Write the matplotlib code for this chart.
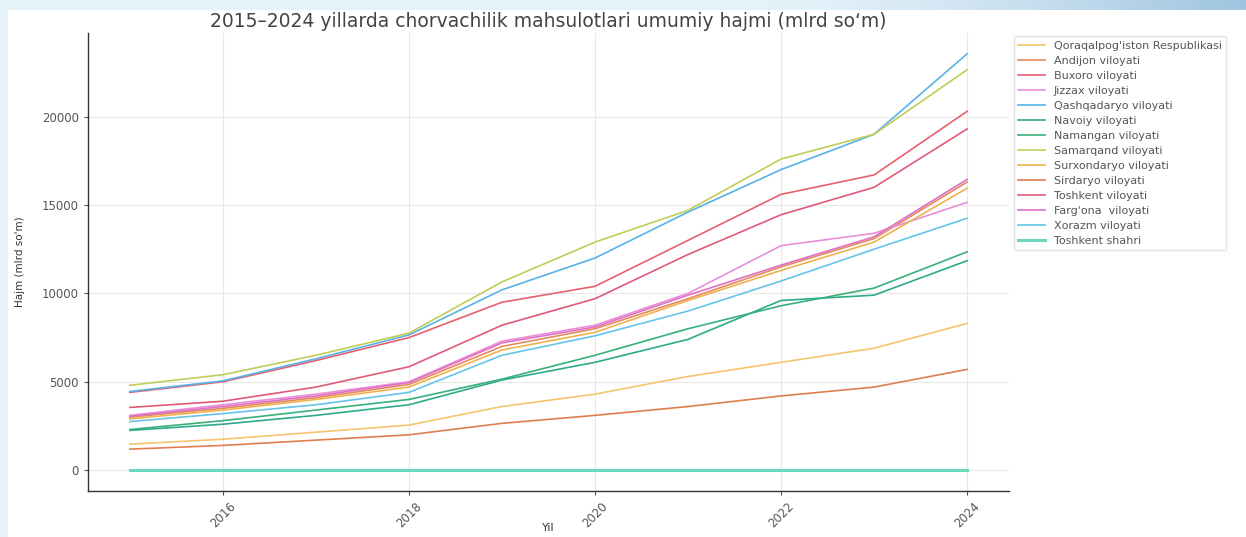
#-*- coding:utf-8 -*-

# Importation des modules
import numpy as np
import matplotlib
matplotlib.use("Agg")
import matplotlib.pyplot as plt
from matplotlib.patches import Rectangle


# Données (mlrd so'm)
years = [2015, 2016, 2017, 2018, 2019, 2020, 2021, 2022, 2023, 2024]

regions = [
	"Qoraqalpog'iston Respublikasi",
	"Andijon viloyati",
	"Buxoro viloyati",
	"Jizzax viloyati",
	"Qashqadaryo viloyati",
	"Navoiy viloyati",
	"Namangan viloyati",
	"Samarqand viloyati",
	"Surxondaryo viloyati",
	"Sirdaryo viloyati",
	"Toshkent viloyati",
	"Farg'ona  viloyati",
	"Xorazm viloyati",
	"Toshkent shahri",
]

qoraqalpogiston = [1470, 1750, 2150, 2550, 3600, 4300, 5300, 6100, 6900, 8300]
andijon = [3000, 3500, 4100, 4850, 7000, 8000, 9700, 11500, 13100, 16300]
buxoro = [4400, 5000, 6200, 7500, 9500, 10400, 13000, 15600, 16700, 20300]
jizzax = [3100, 3700, 4300, 5000, 7300, 8200, 10000, 12700, 13400, 15150]
qashqadaryo = [4450, 5050, 6300, 7650, 10200, 12000, 14600, 17000, 19000, 23550]
navoiy = [2250, 2600, 3100, 3700, 5100, 6100, 7400, 9600, 9900, 11850]
namangan = [2300, 2800, 3400, 4000, 5150, 6500, 8000, 9300, 10300, 12350]
samarqand = [4800, 5400, 6500, 7750, 10650, 12900, 14700, 17600, 19000, 22650]
surxondaryo = [2900, 3400, 4000, 4700, 6800, 7800, 9600, 11300, 12900, 15950]
sirdaryo = [1190, 1400, 1700, 2000, 2650, 3100, 3600, 4200, 4700, 5700]
toshkent_vil = [3550, 3900, 4700, 5850, 8200, 9700, 12200, 14450, 16000, 19300]
fargona = [3050, 3600, 4200, 4950, 7200, 8100, 9900, 11600, 13200, 16450]
xorazm = [2750, 3200, 3700, 4400, 6500, 7600, 9000, 10700, 12500, 14250]
toshkent_sh = [0, 0, 0, 0, 0, 0, 0, 0, 0, 0]

series = [
	qoraqalpogiston, andijon, buxoro, jizzax, qashqadaryo, navoiy, namangan,
	samarqand, surxondaryo, sirdaryo, toshkent_vil, fargona, xorazm, toshkent_sh,
]

colors = [
	"#f5c46e", "#e58a5c", "#e6606e", "#ea8fd6", "#58b2e6", "#2ea98c", "#38b07a",
	"#c2cc58", "#f0b24e", "#df7f4e", "#e05a78", "#de70c6", "#66c4ea", "#6ad8bc",
]


# Création de la figure
fig = plt.figure(figsize=(12.46, 5.37), dpi=100)
fig.patch.set_facecolor("#e7f3fb")

# Fond blanc du graphique (capture d'écran)
fig.patches.append(Rectangle((8 / 1246, 0), 1, 1 - 10 / 537, transform=fig.transFigure,
	facecolor="white", edgecolor="none", zorder=0))

# Bandeau supérieur en dégradé
ax_bg = fig.add_axes([0, 1 - 10 / 537, 1, 10 / 537], zorder=0)
grad = np.linspace(0, 1, 256)
c0 = np.array([0.90, 0.95, 0.98])
c1 = np.array([0.62, 0.77, 0.88])
w = np.clip((grad - 0.6) / 0.4, 0, 1) ** 1.5
img = c0[None, :] * (1 - w[:, None]) + c1[None, :] * w[:, None]
ax_bg.imshow(img[None, :, :], aspect="auto", extent=[0, 1, 0, 1])
ax_bg.axis("off")

ax = fig.add_axes([88 / 1246, 1 - 491 / 537, (1009 - 88) / 1246, (491 - 33) / 537], zorder=1)

# Tracé des courbes
for name, values, color in zip(regions, series, colors):
	lw = 2.2 if name == "Toshkent shahri" else 1.2
	ax.plot(years, values, label=name, color=color, linewidth=lw)

# Mise en forme des axes
ax.grid(True, color="#e8e8e8", linewidth=0.8)
ax.set_axisbelow(True)
for side in ["top", "right"]:
	ax.spines[side].set_visible(False)
for side in ["left", "bottom"]:
	ax.spines[side].set_color("#333333")
	ax.spines[side].set_linewidth(1.0)

ax.set_yticks([0, 5000, 10000, 15000, 20000])
ax.set_xticks([2016, 2018, 2020, 2022, 2024])
ax.tick_params(axis="both", labelsize=8.5, colors="#555555", length=3)
plt.setp(ax.get_xticklabels(), rotation=45)

# Annotation de la figure
ax.set_title("2015–2024 yillarda chorvachilik mahsulotlari umumiy hajmi (mlrd so‘m)",
	fontsize=13.5, color="#444444", pad=4)
ax.set_xlabel("Yil", fontsize=8, color="#333333", labelpad=-5)
ax.set_ylabel("Hajm (mlrd so'm)", fontsize=7.5, color="#333333", labelpad=12)

leg = ax.legend(loc="upper left", bbox_to_anchor=(1.005, 0.993), fontsize=8,
	frameon=True, handlelength=2.4, labelspacing=0.45, borderaxespad=0)
leg.get_frame().set_edgecolor("#dddddd")
for text in leg.get_texts():
	text.set_color("#555555")

# Sauvegarde de la figure
fig.savefig("out.png", dpi=100)
